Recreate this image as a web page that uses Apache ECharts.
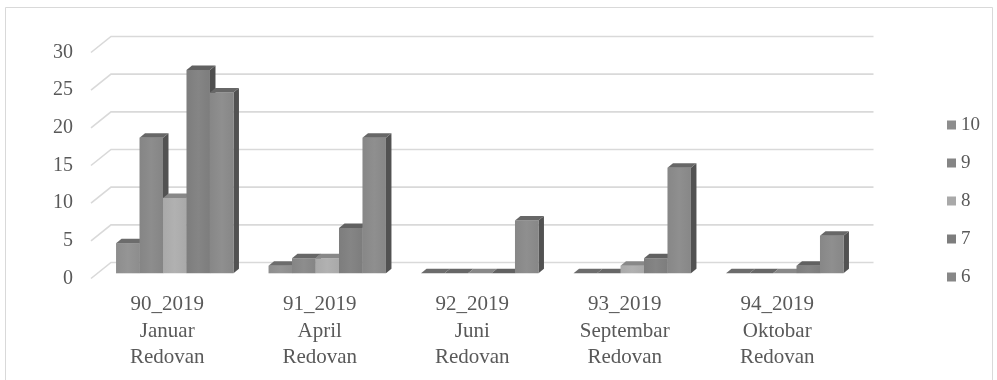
<!DOCTYPE html>
<html>
<head>
<meta charset="utf-8">
<script src="https://cdn.jsdelivr.net/npm/echarts@6/dist/echarts.min.js"></script>
<style>
  html, body { margin: 0; padding: 0; background: #fff; }
  #chart { width: 997px; height: 380px; }
</style>
</head>
<body>
<div id="chart"></div>
<script>
// kategorije (tri reda teksta po kategoriji)
var categories = ['90_2019\nJanuar\nRedovan', '91_2019\nApril\nRedovan', '92_2019\nJuni\nRedovan',
                  '93_2019\nSeptembar\nRedovan', '94_2019\nOktobar\nRedovan'];
var seriesNames = ['10', '9', '8', '7', '6'];
var s10 = [4, 1, 0, 0, 0];
var s9  = [18, 2, 0, 0, 0];
var s8  = [10, 2, 0, 1, 0];
var s7  = [27, 6, 0, 2, 1];
var s6  = [24, 18, 7, 14, 5];
var yTicks = [0, 5, 10, 15, 20, 25, 30];

var seriesValues = [s10, s9, s8, s7, s6];

// boje: prednja strana, vrh, bok
var faceColors = ['#8d8d8d', '#858585', '#a9a9a9', '#7d7d7d', '#878787'];
var topColors  = ['#6c6c6c', '#676767', '#888888', '#616161', '#676767'];
var sideColors = ['#555555', '#525252', '#6c6c6c', '#4f4f4f', '#525252'];

var chart = echarts.init(document.getElementById('chart'));

var FONT = 'Liberation Serif';
var DEPTH_X = 20, DEPTH_Y = 16;      // pomak zadnjeg zida
var BAR_DX = 7.5, BAR_DY = 5.2;       // pomak stupaca od prednje ivice poda
var BAR_DEPTH_X = 5.5, BAR_DEPTH_Y = 4.5;

function shade(c, d) {
    var n = parseInt(c.slice(1), 16);
    var r = Math.min(255, ((n >> 16) & 255) + d);
    var g = Math.min(255, ((n >> 8) & 255) + d);
    var b = Math.min(255, (n & 255) + d);
    return 'rgb(' + r + ',' + g + ',' + b + ')';
}

// 3D stupac
function barRenderer(idx) {
    return function (params, api) {
        var cat = api.value(0), v = api.value(1);
        var base = api.coord([cat, 0]);
        var top = api.coord([cat, v]);
        var bw = api.size([1, 0])[0];
        var w = bw * 0.154;
        var x = base[0] - 2.5 * w + idx * w + BAR_DX;
        var yb = base[1] - BAR_DY, yt = top[1] - BAR_DY;
        var dx = BAR_DEPTH_X, dy = BAR_DEPTH_Y;
        return {
            type: 'group',
            children: [
                {
                    type: 'polygon',
                    shape: { points: [[x + w, yt], [x + w + dx, yt - dy], [x + w + dx, yb - dy], [x + w, yb]] },
                    style: { fill: sideColors[idx] }
                },
                {
                    type: 'rect',
                    shape: { x: x, y: yt, width: w, height: yb - yt },
                    style: {
                        fill: new echarts.graphic.LinearGradient(0, 0, 1, 0, [
                            { offset: 0, color: faceColors[idx] },
                            { offset: 0.5, color: shade(faceColors[idx], 8) },
                            { offset: 1, color: faceColors[idx] }
                        ])
                    }
                },
                {
                    type: 'polygon',
                    shape: { points: [[x, yt], [x + dx, yt - dy], [x + w + dx, yt - dy], [x + w, yt]] },
                    style: { fill: topColors[idx] }
                }
            ]
        };
    };
}

// linije mreže na zadnjem zidu
function gridRenderer(params, api) {
    var p = api.coord([0, api.value(1)]);
    var bw = api.size([1, 0])[0];
    var x0 = p[0] - bw / 2;
    var xEnd = x0 + categories.length * bw;
    var y = p[1];
    return {
        type: 'polyline',
        shape: { points: [[x0, y], [x0 + DEPTH_X, y - DEPTH_Y], [xEnd + DEPTH_X, y - DEPTH_Y]] },
        style: { stroke: '#d9d9d9', lineWidth: 1.6, fill: null }
    };
}

var series = [{
    type: 'custom',
    name: 'grid',
    renderItem: gridRenderer,
    data: yTicks.map(function (v) { return [0, v]; }),
    silent: true,
    z: 1
}];

seriesValues.forEach(function (vals, i) {
    series.push({
        type: 'custom',
        name: seriesNames[i],
        renderItem: barRenderer(i),
        itemStyle: { color: faceColors[i] },
        data: vals.map(function (v, j) { return [j, v]; }),
        z: 2
    });
});

var option = {
    animation: false,
    backgroundColor: '#fff',
    textStyle: { fontFamily: FONT },
    graphic: [{
        type: 'rect',
        shape: { x: 5.5, y: 7.5, width: 987, height: 400 },
        style: { fill: null, stroke: '#d9d9d9', lineWidth: 1 },
        silent: true
    }],
    grid: {
        left: 91,
        right: 143.5,
        top: 52.5,
        bottom: 101.5
    },
    legend: {
        orient: 'vertical',
        left: 942,
        top: 109,
        data: seriesNames,
        icon: 'rect',
        itemWidth: 9,
        itemHeight: 9,
        itemGap: 16,
        textStyle: { fontFamily: FONT, fontSize: 19, color: '#595959', lineHeight: 22 }
    },
    xAxis: {
        type: 'category',
        data: categories,
        axisLine: { show: false },
        axisTick: { show: false },
        splitLine: { show: false },
        axisLabel: {
            margin: 13,
            fontFamily: FONT,
            fontSize: 21,
            lineHeight: 26.5,
            color: '#595959',
            interval: 0
        }
    },
    yAxis: {
        type: 'value',
        min: 0,
        max: 30,
        interval: 5,
        axisLine: { show: false },
        axisTick: { show: false },
        splitLine: { show: false },
        axisLabel: {
            margin: 18,
            fontFamily: FONT,
            fontSize: 20,
            color: '#595959'
        }
    },
    series: series
};

chart.setOption(option);
</script>
</body>
</html>
